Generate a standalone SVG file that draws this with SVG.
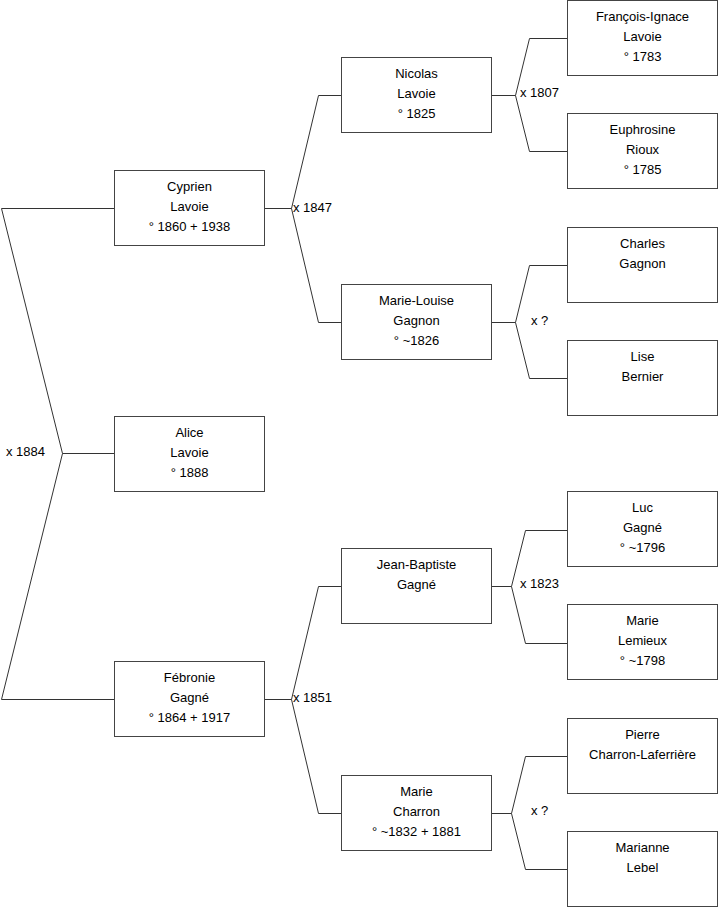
<svg xmlns="http://www.w3.org/2000/svg" width="719" height="908" viewBox="0 0 719 908">
<style>
.box rect{fill:#fff;stroke:#444;stroke-width:1}
.box text,.lbl{font-family:"Liberation Sans",Arial,sans-serif;font-size:13px;fill:#000}
.box text{text-anchor:middle}
#connectors path{fill:none;stroke:#333;stroke-width:1}
</style>
<rect width="719" height="908" fill="#fff"/>
<g id="connectors">
<path d="M1.5,208.5H114M1.5,208.5L62.5,453.5L1.5,699.5H114M62.5,453.5H114"/>
<path d="M264,208.5H291.5L318.5,95.5H341M291.5,208.5L318.5,322.5H341"/>
<path d="M264,699.5H291.5L318.5,586.5H341M291.5,699.5L318.5,813.5H341"/>
<path d="M491,95.5H515.5L529.5,38.5H567M515.5,95.5L529.5,151.5H567"/>
<path d="M491,322.5H515.5L529.5,265.5H567M515.5,322.5L529.5,378.5H567"/>
<path d="M491,586.5H511.5L525.5,530.5H567M511.5,586.5L525.5,643.5H567"/>
<path d="M491,813.5H511.5L525.5,756.5H567M511.5,813.5L525.5,869.5H567"/>
<text class="lbl" x="6" y="456">x 1884</text>
<text class="lbl" x="293" y="212">x 1847</text>
<text class="lbl" x="293" y="702">x 1851</text>
<text class="lbl" x="520" y="97">x 1807</text>
<text class="lbl" x="531" y="325">x ?</text>
<text class="lbl" x="520" y="588">x 1823</text>
<text class="lbl" x="531" y="815">x ?</text>
</g>
<g id="cyprien" class="box"><rect x="114.5" y="170.5" width="150" height="75"/><text x="189.5" y="191">Cyprien</text><text x="189.5" y="211">Lavoie</text><text x="189.5" y="231">° 1860 + 1938</text></g>
<g id="alice" class="box"><rect x="114.5" y="416.5" width="150" height="75"/><text x="189.5" y="437">Alice</text><text x="189.5" y="457">Lavoie</text><text x="189.5" y="477">° 1888</text></g>
<g id="febronie" class="box"><rect x="114.5" y="661.5" width="150" height="75"/><text x="189.5" y="682">Fébronie</text><text x="189.5" y="702">Gagné</text><text x="189.5" y="722">° 1864 + 1917</text></g>
<g id="nicolas" class="box"><rect x="341.5" y="57.5" width="150" height="75"/><text x="416.5" y="78">Nicolas</text><text x="416.5" y="98">Lavoie</text><text x="416.5" y="118">° 1825</text></g>
<g id="marie-louise" class="box"><rect x="341.5" y="284.5" width="150" height="75"/><text x="416.5" y="305">Marie-Louise</text><text x="416.5" y="325">Gagnon</text><text x="416.5" y="345">° ~1826</text></g>
<g id="jean-baptiste" class="box"><rect x="341.5" y="548.5" width="150" height="75"/><text x="416.5" y="569">Jean-Baptiste</text><text x="416.5" y="589">Gagné</text></g>
<g id="marie-charron" class="box"><rect x="341.5" y="775.5" width="150" height="75"/><text x="416.5" y="796">Marie</text><text x="416.5" y="816">Charron</text><text x="416.5" y="836">° ~1832 + 1881</text></g>
<g id="francois" class="box"><rect x="567.5" y="0.5" width="150" height="75"/><text x="642.5" y="21">François-Ignace</text><text x="642.5" y="41">Lavoie</text><text x="642.5" y="61">° 1783</text></g>
<g id="euphrosine" class="box"><rect x="567.5" y="113.5" width="150" height="75"/><text x="642.5" y="134">Euphrosine</text><text x="642.5" y="154">Rioux</text><text x="642.5" y="174">° 1785</text></g>
<g id="charles" class="box"><rect x="567.5" y="227.5" width="150" height="75"/><text x="642.5" y="248">Charles</text><text x="642.5" y="268">Gagnon</text></g>
<g id="lise" class="box"><rect x="567.5" y="340.5" width="150" height="75"/><text x="642.5" y="361">Lise</text><text x="642.5" y="381">Bernier</text></g>
<g id="luc" class="box"><rect x="567.5" y="491.5" width="150" height="75"/><text x="642.5" y="512">Luc</text><text x="642.5" y="532">Gagné</text><text x="642.5" y="552">° ~1796</text></g>
<g id="marie-lemieux" class="box"><rect x="567.5" y="604.5" width="150" height="75"/><text x="642.5" y="625">Marie</text><text x="642.5" y="645">Lemieux</text><text x="642.5" y="665">° ~1798</text></g>
<g id="pierre" class="box"><rect x="567.5" y="718.5" width="150" height="75"/><text x="642.5" y="739">Pierre</text><text x="642.5" y="759">Charron-Laferrière</text></g>
<g id="marianne" class="box"><rect x="567.5" y="831.5" width="150" height="75"/><text x="642.5" y="852">Marianne</text><text x="642.5" y="872">Lebel</text></g>
</svg>
